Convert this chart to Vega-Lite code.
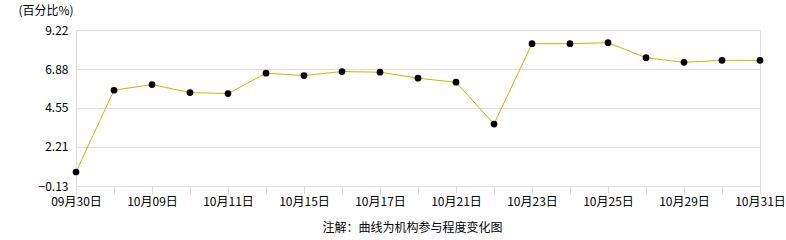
{
  "$schema": "https://vega.github.io/schema/vega-lite/v6.json",
  "width": 684,
  "height": 156,
  "autosize": {"type": "none"},
  "padding": {"left": 76, "top": 30, "right": 26, "bottom": 54},
  "background": "white",
  "config": {
    "view": {"stroke": "#dddddd", "strokeWidth": 1},
    "font": "Noto Sans CJK SC"
  },
  "data": {
    "values": [
      {"date": "09月30日", "value": 0.71},
      {"date": "10月08日", "value": 5.61},
      {"date": "10月09日", "value": 5.95},
      {"date": "10月10日", "value": 5.47},
      {"date": "10月11日", "value": 5.41},
      {"date": "10月14日", "value": 6.63},
      {"date": "10月15日", "value": 6.49},
      {"date": "10月16日", "value": 6.73},
      {"date": "10月17日", "value": 6.69},
      {"date": "10月18日", "value": 6.33},
      {"date": "10月21日", "value": 6.09},
      {"date": "10月22日", "value": 3.58},
      {"date": "10月23日", "value": 8.40},
      {"date": "10月24日", "value": 8.40},
      {"date": "10月25日", "value": 8.46},
      {"date": "10月28日", "value": 7.56},
      {"date": "10月29日", "value": 7.28},
      {"date": "10月30日", "value": 7.40},
      {"date": "10月31日", "value": 7.40}
    ]
  },
  "encoding": {
    "x": {
      "field": "date",
      "type": "ordinal",
      "sort": null,
      "scale": {"type": "point", "padding": 0},
      "axis": {
        "labelAngle": 0,
        "labelExpr": "indexof(['09月30日','10月09日','10月11日','10月15日','10月17日','10月21日','10月23日','10月25日','10月29日','10月31日'], datum.value) >= 0 ? datum.value : ''",
        "labelFontSize": 12,
        "labelColor": "#000000",
        "labelPadding": 2,
        "tickSize": 8,
        "tickColor": "#dddddd",
        "domainColor": "#dddddd",
        "grid": false,
        "title": "注解：曲线为机构参与程度变化图",
        "titleFontSize": 12,
        "titleFontWeight": "normal",
        "titleColor": "#000000",
        "titleX": 336,
        "titleY": 41,
        "titleAlign": "center",
        "titleBaseline": "middle"
      }
    },
    "y": {
      "field": "value",
      "type": "quantitative",
      "scale": {"domain": [-0.13, 9.22], "nice": false, "zero": false},
      "axis": {
        "values": [-0.13, 2.21, 4.55, 6.88, 9.22],
        "format": ".2f",
        "labelFontSize": 12,
        "labelColor": "#000000",
        "labelPadding": 8,
        "ticks": false,
        "domain": false,
        "gridColor": "#dddddd",
        "title": "(百分比%)",
        "titleAngle": 0,
        "titleFontSize": 12,
        "titleFontWeight": "normal",
        "titleColor": "#000000",
        "titleX": -58,
        "titleY": -20,
        "titleAlign": "left",
        "titleBaseline": "middle"
      }
    }
  },
  "layer": [
    {"mark": {"type": "line", "color": "#bcbc00", "strokeWidth": 1}},
    {"mark": {"type": "point", "filled": true, "color": "#000000", "opacity": 1, "size": 45}}
  ]
}
